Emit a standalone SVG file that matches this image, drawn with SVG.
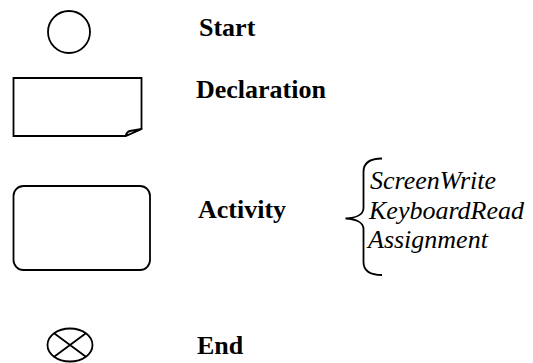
<svg xmlns="http://www.w3.org/2000/svg" width="533" height="363" viewBox="0 0 533 363">
  <style>
    .shape { fill: #fff; stroke: #000; stroke-width: 1.8; }
    .line { fill: none; stroke: #000; stroke-width: 1.8; }
    .label { font-family: "Liberation Serif", "Times New Roman", serif; font-size: 26px; font-weight: bold; fill: #000; }
    .item { font-family: "Liberation Serif", "Times New Roman", serif; font-size: 26px; font-style: italic; fill: #000; }
  </style>
  <rect width="533" height="363" fill="#fff"/>

  <!-- Start: plain circle -->
  <g id="start">
    <circle class="shape" cx="69" cy="32" r="21"/>
    <text class="label" x="199" y="36">Start</text>
  </g>

  <!-- Declaration: rectangle with a folded bottom-right corner -->
  <g id="declaration">
    <path class="shape" d="M13.5,78 L141.5,78 L141.5,129 L125.5,136 L13.5,136 Z"/>
    <path class="shape" stroke-linejoin="round" d="M125.5,136 Q127,131.5 130,131 L141.5,129 Z"/>
    <text class="label" x="196" y="97.5">Declaration</text>
  </g>

  <!-- Activity: rounded rectangle -->
  <g id="activity">
    <rect class="shape" x="13.5" y="186" width="136.5" height="84" rx="10" ry="10"/>
    <text class="label" x="198" y="218">Activity</text>
  </g>

  <!-- Kinds of activity, grouped by a curly brace -->
  <g id="activity-kinds">
    <path class="line" d="M382,158.5 C370,158.5 363.5,163 363.5,172 L363.5,208 C363.5,214 357,218 345.5,218.5 C357,219 363.5,223 363.5,229 L363.5,262 C363.5,271 370,275 382,275"/>
    <text class="item" x="370" y="189">ScreenWrite</text>
    <text class="item" x="369" y="218.5">KeyboardRead</text>
    <text class="item" x="368" y="248">Assignment</text>
  </g>

  <!-- End: ellipse with a cross -->
  <g id="end">
    <ellipse class="shape" cx="70" cy="345" rx="22.5" ry="16.5"/>
    <path class="line" d="M54.1,333.3 L85.9,356.7 M85.9,333.3 L54.1,356.7"/>
    <text class="label" x="197" y="353.5">End</text>
  </g>

  <!-- No connectors between the legend entries -->
  <g id="connectors"/>
</svg>
